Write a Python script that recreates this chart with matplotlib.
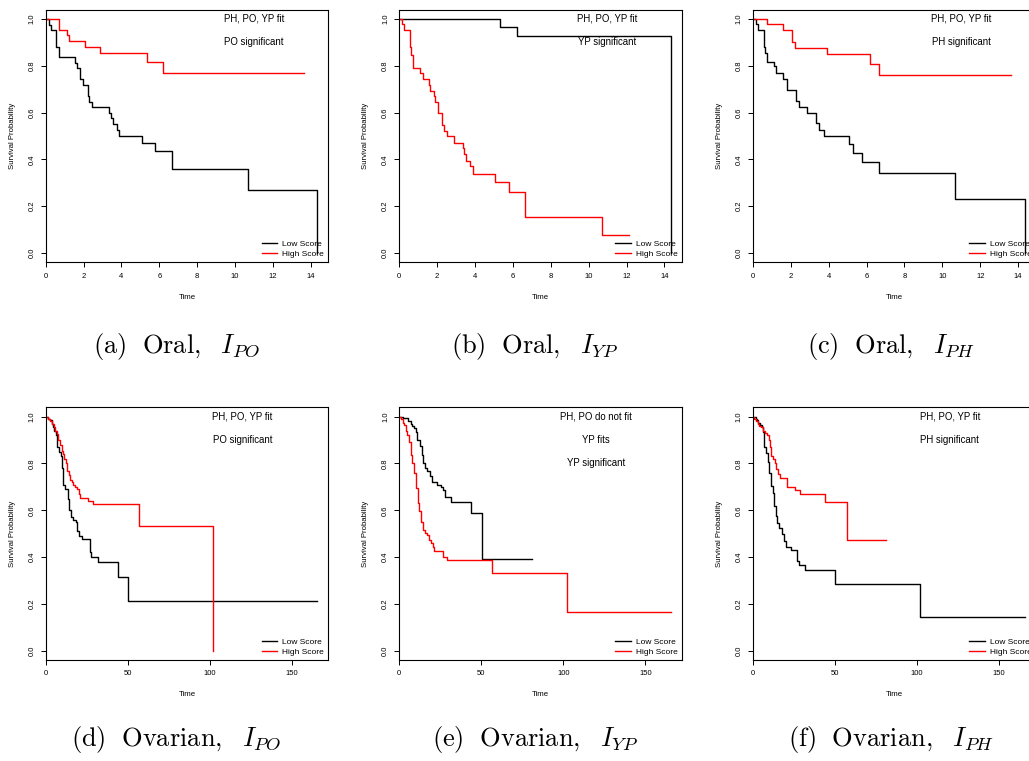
import matplotlib
matplotlib.use("Agg")
import matplotlib.pyplot as plt
from matplotlib.lines import Line2D

plt.rcParams['font.family'] = ['Liberation Sans', 'DejaVu Sans']
plt.rcParams['mathtext.fontset'] = 'cm'

# Kaplan-Meier step curves: event times and survival after each step
oral_po_low_t = [0, 0.16, 0.26, 0.55, 0.69, 1.57, 1.64, 1.81, 1.99, 2.24, 2.31, 2.47, 3.33, 3.45, 3.54, 3.75, 3.89, 5.07, 5.77, 6.67, 10.70, 14.35]
oral_po_low_s = [1, 0.976, 0.953, 0.882, 0.837, 0.814, 0.790, 0.744, 0.718, 0.669, 0.647, 0.623, 0.597, 0.575, 0.552, 0.526, 0.500, 0.469, 0.437, 0.358, 0.269, 0.0]
oral_po_high_t = [0, 0.69, 1.11, 1.23, 2.06, 2.87, 5.33, 6.21, 13.64]
oral_po_high_s = [1, 0.953, 0.930, 0.906, 0.880, 0.855, 0.815, 0.771, 0.771]

oral_yp_low_t = [0, 5.32, 6.23, 14.35]
oral_yp_low_s = [1, 0.967, 0.927, 0.0]
oral_yp_high_t = [0, 0.12, 0.25, 0.56, 0.62, 0.72, 1.11, 1.23, 1.58, 1.62, 1.83, 1.87, 2.06, 2.24, 2.27, 2.36, 2.50, 2.90, 3.35, 3.42, 3.52, 3.73, 3.91, 5.07, 5.79, 6.65, 10.72, 12.11]
oral_yp_high_s = [1, 0.977, 0.953, 0.882, 0.846, 0.790, 0.768, 0.743, 0.718, 0.694, 0.669, 0.644, 0.597, 0.572, 0.548, 0.522, 0.498, 0.472, 0.447, 0.422, 0.395, 0.370, 0.339, 0.304, 0.260, 0.156, 0.078, 0.078]

oral_ph_low_t = [0, 0.14, 0.26, 0.56, 0.65, 0.72, 1.11, 1.21, 1.57, 1.81, 2.27, 2.41, 2.87, 3.32, 3.46, 3.76, 5.05, 5.26, 5.75, 6.65, 10.69, 14.35]
oral_ph_low_s = [1, 0.977, 0.953, 0.882, 0.853, 0.816, 0.797, 0.768, 0.743, 0.697, 0.650, 0.626, 0.600, 0.555, 0.526, 0.500, 0.465, 0.427, 0.387, 0.344, 0.230, 0.0]
oral_ph_high_t = [0, 0.72, 1.60, 2.04, 2.20, 3.89, 6.19, 6.67, 13.61]
oral_ph_high_s = [1, 0.977, 0.953, 0.903, 0.878, 0.851, 0.807, 0.759, 0.759]

ovar_po_low_t = [0, 1.6, 2.6, 4.1, 4.7, 5.3, 6.1, 7.1, 8.1, 9.1, 10.2, 10.8, 12.0, 13.4, 14.2, 15.2, 16.9, 18.5, 19.3, 20.1, 22.4, 26.8, 27.6, 32.1, 43.9, 50.0, 165.6]
ovar_po_low_s = [1, 0.99, 0.985, 0.97, 0.955, 0.94, 0.92, 0.87, 0.85, 0.83, 0.78, 0.71, 0.69, 0.65, 0.60, 0.57, 0.56, 0.55, 0.51, 0.49, 0.477, 0.42, 0.40, 0.38, 0.316, 0.212, 0.212]
ovar_po_high_t = [0, 1.2, 2.6, 4.1, 5.1, 5.9, 6.7, 7.7, 8.7, 9.8, 10.8, 11.4, 12.4, 13.2, 14.0, 14.8, 15.9, 16.9, 17.9, 19.3, 20.3, 20.9, 26.0, 29.1, 57.1, 101.8]
ovar_po_high_s = [1, 0.99, 0.98, 0.97, 0.955, 0.94, 0.925, 0.90, 0.88, 0.855, 0.84, 0.82, 0.80, 0.77, 0.75, 0.73, 0.72, 0.71, 0.70, 0.69, 0.67, 0.653, 0.64, 0.625, 0.535, 0.0]

ovar_yp_low_t = [0, 2.4, 5.5, 6.9, 7.9, 8.9, 9.9, 11.0, 12.8, 13.8, 14.6, 15.6, 17.0, 18.7, 19.7, 22.7, 25.4, 26.4, 27.8, 31.5, 44.0, 50.1, 81.0]
ovar_yp_low_s = [1, 0.995, 0.98, 0.97, 0.96, 0.95, 0.935, 0.90, 0.875, 0.835, 0.80, 0.78, 0.77, 0.745, 0.72, 0.71, 0.70, 0.685, 0.655, 0.635, 0.588, 0.392, 0.392]
ovar_yp_high_t = [0, 1.0, 2.0, 2.8, 3.9, 4.9, 5.9, 6.9, 7.9, 8.9, 10.1, 11.2, 12.2, 13.2, 14.2, 15.6, 16.6, 18.1, 19.3, 20.3, 21.3, 26.8, 28.8, 56.6, 101.9, 165.6]
ovar_yp_high_s = [1, 0.99, 0.975, 0.965, 0.94, 0.92, 0.89, 0.835, 0.80, 0.76, 0.695, 0.63, 0.595, 0.55, 0.515, 0.505, 0.495, 0.475, 0.46, 0.445, 0.425, 0.40, 0.389, 0.333, 0.166, 0.166]

ovar_ph_low_t = [0, 1.6, 2.2, 3.3, 4.3, 5.3, 6.3, 6.9, 7.9, 8.9, 10.0, 11.0, 12.0, 13.0, 14.0, 14.8, 15.9, 17.5, 18.9, 19.9, 23.0, 26.8, 27.8, 31.7, 50.0, 101.6, 165.6]
ovar_ph_low_s = [1, 0.99, 0.985, 0.975, 0.965, 0.955, 0.935, 0.87, 0.845, 0.805, 0.76, 0.705, 0.675, 0.62, 0.575, 0.545, 0.525, 0.50, 0.47, 0.445, 0.43, 0.385, 0.368, 0.345, 0.287, 0.143, 0.143]
ovar_ph_high_t = [0, 0.8, 1.8, 2.9, 3.9, 4.9, 5.9, 7.3, 8.7, 9.8, 10.6, 11.0, 12.4, 13.4, 14.0, 15.0, 16.5, 20.5, 25.8, 28.7, 43.9, 57.1, 80.9]
ovar_ph_high_s = [1, 0.99, 0.98, 0.97, 0.96, 0.955, 0.94, 0.93, 0.92, 0.90, 0.87, 0.83, 0.82, 0.80, 0.775, 0.755, 0.74, 0.70, 0.685, 0.668, 0.635, 0.475, 0.475]

oral_ticks = [0, 2, 4, 6, 8, 10, 12, 14]
ovar_ticks = [0, 50, 100, 150]
oral_note_x = 11
ovar_note_x = 120

captions = [r"$\mathrm{(a)\ \ Oral,}\ \ I_{PO}$", r"$\mathrm{(b)\ \ Oral,}\ \ I_{YP}$", r"$\mathrm{(c)\ \ Oral,}\ \ I_{PH}$",
            r"$\mathrm{(d)\ \ Ovarian,}\ \ I_{PO}$", r"$\mathrm{(e)\ \ Ovarian,}\ \ I_{YP}$", r"$\mathrm{(f)\ \ Ovarian,}\ \ I_{PH}$"]

panels = [
    (oral_po_low_t, oral_po_low_s, oral_po_high_t, oral_po_high_s, oral_ticks, oral_note_x, ["PH, PO, YP fit", "PO significant"]),
    (oral_yp_low_t, oral_yp_low_s, oral_yp_high_t, oral_yp_high_s, oral_ticks, oral_note_x, ["PH, PO, YP fit", "YP significant"]),
    (oral_ph_low_t, oral_ph_low_s, oral_ph_high_t, oral_ph_high_s, oral_ticks, oral_note_x, ["PH, PO, YP fit", "PH significant"]),
    (ovar_po_low_t, ovar_po_low_s, ovar_po_high_t, ovar_po_high_s, ovar_ticks, ovar_note_x, ["PH, PO, YP fit", "PO significant"]),
    (ovar_yp_low_t, ovar_yp_low_s, ovar_yp_high_t, ovar_yp_high_s, ovar_ticks, ovar_note_x, ["PH, PO do not fit", "YP fits", "YP significant"]),
    (ovar_ph_low_t, ovar_ph_low_s, ovar_ph_high_t, ovar_ph_high_s, ovar_ticks, ovar_note_x, ["PH, PO, YP fit", "PH significant"]),
]

W, H = 1029, 761
fig = plt.figure(figsize=(W / 100, H / 100), dpi=100)

lefts = [45.7, 399.3, 753.0]
tops = [9.6, 407.3]
caption_x = [176, 535, 891]
caption_y = [353, 746]
aw, ah = 282.6, 252.8

for i, (lt, ls, ht, hs, xticks, note_x, notes) in enumerate(panels):
    r, c = divmod(i, 3)
    ax = fig.add_axes([lefts[c] / W, 1 - (tops[r] + ah) / H, aw / W, ah / H])
    ax.step(lt, ls, where='post', color='black', lw=1.0)
    ax.step(ht, hs, where='post', color='red', lw=1.0)
    tmax = max(lt[-1], ht[-1])
    ax.set_xlim(0, tmax * 1.04)
    ax.set_ylim(-0.04, 1.04)
    ax.set_xticks(xticks)
    ax.set_yticks([0, 0.2, 0.4, 0.6, 0.8, 1.0])
    ax.set_yticklabels(["0.0", "0.2", "0.4", "0.6", "0.8", "1.0"], rotation=90, va='center')
    ax.tick_params(length=3.4, width=0.7, labelsize=5.5, pad=4)
    for sp in ax.spines.values():
        sp.set_linewidth(0.8)
    ax.set_xlabel("Time", fontsize=5.6, va='center')
    ax.xaxis.set_label_coords(0.5, -0.137)
    ax.set_ylabel("Survival Probability", fontsize=5.6, va='center')
    ax.yaxis.set_label_coords(-0.119, 0.5)
    for k, note in enumerate(notes):
        ax.text(note_x, 1.0 - 0.1 * k, note, fontsize=6.9, ha='center', va='center')
    handles = [Line2D([], [], color='black', lw=1.0), Line2D([], [], color='red', lw=1.0)]
    ax.legend(handles, ["Low Score", "High Score"], loc='lower right', frameon=False, fontsize=6,
              handlelength=1.9, handletextpad=0.6, labelspacing=0.25, borderpad=0.3, borderaxespad=0.2)
    fig.text(caption_x[c] / W, 1 - caption_y[r] / H, captions[i], fontsize=19, ha='center', va='baseline')

fig.savefig("out.png", dpi=100)
